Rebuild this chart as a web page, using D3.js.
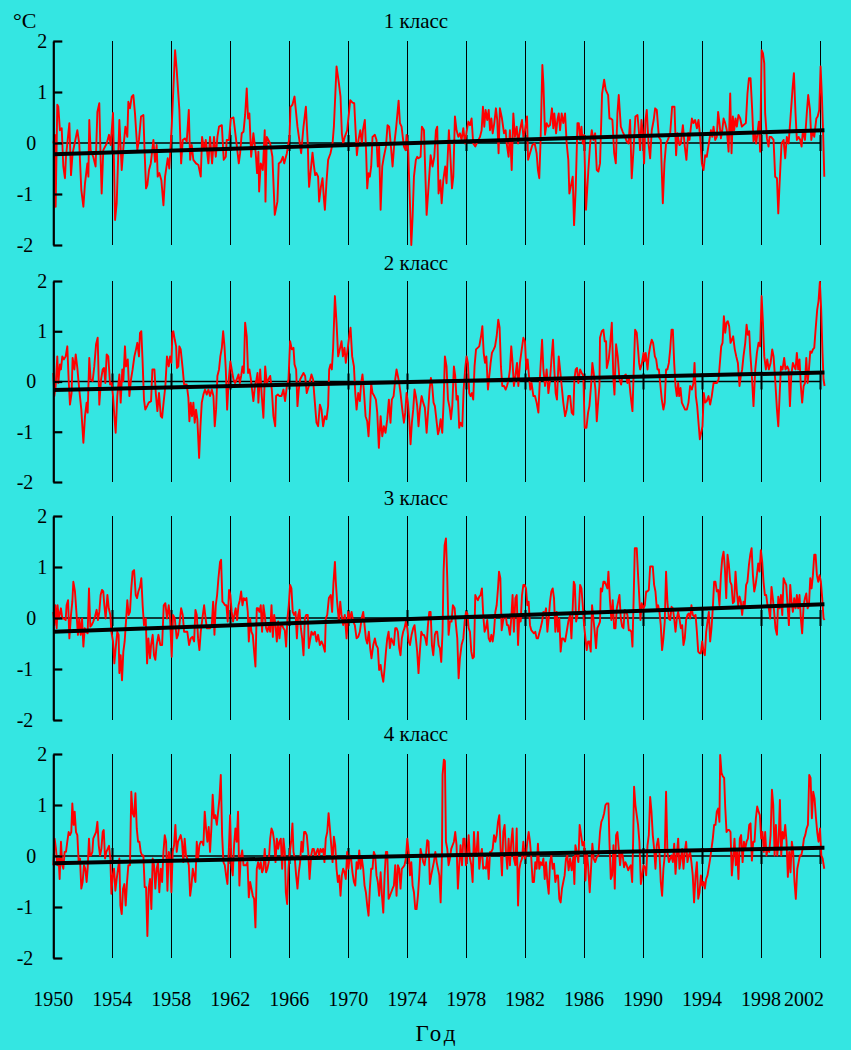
<!DOCTYPE html>
<html><head><meta charset="utf-8">
<script src="https://cdn.jsdelivr.net/npm/d3@7"></script>
<style>html,body{margin:0;padding:0;background:#34e6e2;} svg{display:block;}</style>
</head><body><svg id="c" width="851" height="1050"></svg>
<script>
const titles = ["1 класс", "2 класс", "3 класс", "4 класс"];
const yTicks = [-2, -1, 0, 1, 2];
const xTicks = [1950, 1954, 1958, 1962, 1966, 1970, 1974, 1978, 1982, 1986, 1990, 1994, 1998, 2002];
const trendYears = [1950, 2002.3];
const trendStart = [-0.22, -0.17, -0.27, -0.14];
const trendEnd = [0.25, 0.18, 0.27, 0.16];
const unitLabel = "°C";
const xLabel = "Год";

const class1 = [
[1950.00,-0.01],[1950.11,0.16],[1950.16,-1.25],[1950.27,0.75],[1950.34,0.71],[1950.45,0.25],[1950.57,0.29],[1950.68,-0.46],[1950.79,-0.69],[1950.86,-0.27],[1951.09,0.39],[1951.20,-0.63],[1951.31,-0.20],[1951.63,0.25],[1951.76,-0.01],[1951.90,-0.92],[1952.04,-1.25],[1952.15,-0.79],[1952.31,-0.40],[1952.38,-0.66],[1952.44,0.45],[1952.53,-0.14],[1952.71,-0.27],[1952.87,-0.46],[1952.99,0.61],[1953.12,0.78],[1953.21,-0.33],[1953.28,-0.99],[1953.39,-0.14],[1953.62,-0.01],[1953.78,0.16],[1953.89,-0.04],[1954.05,0.59],[1954.19,-1.51],[1954.30,-1.18],[1954.48,0.45],[1954.64,-0.53],[1954.75,-0.10],[1954.89,0.32],[1955.02,0.12],[1955.09,0.81],[1955.20,0.68],[1955.32,0.91],[1955.43,0.94],[1955.54,0.58],[1955.70,-0.14],[1955.81,0.06],[1955.95,0.52],[1956.11,0.55],[1956.18,-0.07],[1956.29,-0.89],[1956.38,-0.82],[1956.49,-0.53],[1956.61,-0.40],[1956.79,0.06],[1956.90,-0.37],[1957.01,-0.04],[1957.08,-0.66],[1957.19,-0.59],[1957.33,-0.73],[1957.47,-1.22],[1957.58,-0.66],[1957.76,-0.30],[1957.87,-0.50],[1958.03,0.32],[1958.14,1.04],[1958.26,1.82],[1958.37,1.43],[1958.55,0.65],[1958.67,-0.40],[1958.78,0.06],[1958.94,0.09],[1959.05,0.03],[1959.19,0.65],[1959.28,-0.33],[1959.39,-0.04],[1959.50,-0.33],[1959.68,-0.40],[1959.84,-0.43],[1960.00,-0.66],[1960.09,0.12],[1960.23,-0.14],[1960.34,0.06],[1960.52,-0.40],[1960.63,0.12],[1960.77,-0.40],[1960.90,0.12],[1961.02,-0.27],[1961.13,0.12],[1961.24,0.32],[1961.43,0.35],[1961.56,-0.33],[1961.70,-0.27],[1961.76,0.06],[1961.92,0.06],[1962.04,0.48],[1962.22,0.50],[1962.40,0.06],[1962.58,-0.40],[1962.67,-0.20],[1962.78,0.19],[1962.90,0.22],[1963.01,0.55],[1963.12,1.07],[1963.21,0.48],[1963.30,0.58],[1963.42,-0.27],[1963.57,0.19],[1963.73,-0.20],[1963.82,-0.59],[1963.91,-0.17],[1963.96,-0.95],[1964.07,-0.40],[1964.21,-0.53],[1964.34,0.25],[1964.39,-1.15],[1964.48,0.12],[1964.71,-0.01],[1964.86,-0.27],[1965.02,-1.41],[1965.20,-1.15],[1965.29,-0.40],[1965.43,-0.37],[1965.57,-0.27],[1965.66,-0.40],[1965.84,-0.20],[1966.02,0.12],[1966.09,0.71],[1966.22,0.75],[1966.36,0.91],[1966.56,0.32],[1966.72,-0.01],[1966.81,-0.20],[1966.97,0.32],[1967.13,0.71],[1967.26,-0.01],[1967.31,-0.59],[1967.35,-0.86],
[1967.58,-0.19],[1967.67,-0.43],[1967.76,-0.63],[1967.85,-0.59],[1967.96,-0.66],[1968.03,-1.15],[1968.15,-0.86],[1968.26,-0.69],[1968.35,-1.08],[1968.42,-1.31],[1968.53,-0.76],[1968.64,-0.33],[1968.80,-0.20],[1968.94,-0.01],[1969.03,0.32],[1969.12,0.91],[1969.21,1.50],[1969.37,1.17],[1969.48,0.91],[1969.57,0.19],[1969.66,-0.01],[1969.77,0.12],[1969.93,0.25],[1970.05,0.58],[1970.14,0.84],[1970.29,0.79],[1970.41,0.78],[1970.50,0.25],[1970.59,-0.24],[1970.70,0.06],[1970.82,0.25],[1970.93,-0.01],[1971.00,0.25],[1971.13,0.45],[1971.22,-0.20],[1971.29,-0.89],[1971.38,-0.59],[1971.47,-0.66],[1971.56,-0.46],[1971.65,0.12],[1971.81,0.16],[1971.92,0.06],[1972.01,-0.46],[1972.10,-0.07],[1972.20,-1.31],[1972.31,-0.46],[1972.42,-0.27],[1972.56,-0.07],[1972.67,0.35],[1972.78,0.32],[1972.92,-0.14],[1973.01,-0.46],[1973.12,-0.04],[1973.26,0.32],[1973.42,0.83],[1973.51,0.39],[1973.62,0.32],[1973.78,-0.07],[1973.89,-0.14],[1973.96,0.16],[1974.07,-0.14],[1974.19,-1.18],[1974.28,-2.00],[1974.37,-1.44],[1974.46,-0.66],[1974.59,-0.33],[1974.68,-0.27],[1974.77,-0.30],[1974.91,-0.27],[1975.00,0.32],[1975.14,0.25],[1975.23,-0.59],[1975.32,-1.41],[1975.45,-0.86],[1975.59,-0.24],[1975.72,-0.46],[1975.84,-0.27],[1975.95,0.25],[1976.04,0.32],[1976.13,-0.99],[1976.25,-0.73],[1976.34,-1.18],[1976.45,-0.73],[1976.58,-0.46],[1976.67,-0.79],[1976.83,0.25],[1976.92,-0.20],[1977.04,-0.89],[1977.13,-0.66],[1977.24,0.52],[1977.35,0.25],[1977.47,0.12],[1977.58,0.19],[1977.69,0.06],[1977.81,0.29],[1977.92,-0.01],[1978.03,0.22],[1978.15,0.42],[1978.26,0.35],[1978.37,0.48],[1978.48,-0.01],[1978.62,-0.07],[1978.71,-0.01],[1978.94,0.12],[1979.05,0.25],[1979.14,0.71],[1979.23,0.32],[1979.32,0.65],[1979.43,0.45],[1979.53,0.65],[1979.62,0.25],[1979.71,0.48],[1979.80,0.19],[1979.91,0.39],[1980.02,0.68],[1980.11,0.45],[1980.20,-0.20],[1980.29,0.68],[1980.43,0.48],[1980.57,0.19],[1980.68,0.25],[1980.75,-0.01],[1980.88,-0.27],[1980.97,0.25],[1981.09,-0.53],[1981.20,0.58],[1981.31,0.12],[1981.43,0.32],[1981.52,-0.01],[1981.65,0.25],[1981.79,0.45],[1981.88,0.12],[1981.99,0.25],[1982.13,0.52],[1982.20,-0.33],[1982.33,-0.20],[1982.49,-0.04],[1982.65,-0.01],[1982.78,-0.20],[1982.87,-0.53],[1982.96,-0.69],[1983.05,0.06],[1983.17,1.53],[1983.24,1.17],[1983.35,0.16],[1983.46,0.39],[1983.58,0.32],[1983.69,0.35],[1983.82,0.68],[1983.91,0.29],[1983.98,0.58],[1984.10,0.19],[1984.19,0.45],[1984.28,0.58],[1984.37,0.25],[1984.48,0.58],[1984.59,0.39],[1984.71,0.58],[1984.82,-0.01],[1984.93,-0.33],[1985.00,-0.99],
[1985.23,-0.66],[1985.32,-1.61],[1985.43,-0.92],[1985.55,0.39],[1985.64,0.39],[1985.73,0.06],[1985.82,0.32],[1985.91,-0.01],[1986.00,0.16],[1986.13,-1.31],[1986.29,-0.53],[1986.41,-0.01],[1986.52,0.25],[1986.63,0.06],[1986.75,0.19],[1986.86,-0.53],[1986.97,-0.56],[1987.08,-0.40],[1987.22,0.97],[1987.36,1.24],[1987.47,1.04],[1987.63,0.94],[1987.72,0.48],[1987.81,0.48],[1987.92,0.45],[1988.04,-0.20],[1988.15,-0.40],[1988.26,0.58],[1988.35,0.94],[1988.49,0.32],[1988.62,0.22],[1988.78,0.12],[1988.89,0.03],[1989.01,-0.01],[1989.12,0.45],[1989.23,-0.69],[1989.35,-0.14],[1989.48,0.52],[1989.62,0.55],[1989.71,0.25],[1989.80,-0.14],[1989.89,0.45],[1989.98,0.22],[1990.07,-0.40],[1990.16,0.45],[1990.25,0.65],[1990.37,-0.01],[1990.48,-0.30],[1990.59,0.25],[1990.72,0.45],[1990.82,0.68],[1990.93,0.65],[1991.07,0.12],[1991.20,0.06],[1991.34,-1.18],[1991.45,-0.40],[1991.56,-0.01],[1991.68,0.06],[1991.84,0.19],[1991.97,0.71],[1992.13,0.71],[1992.24,-0.24],[1992.33,0.19],[1992.47,-0.04],[1992.56,-0.01],[1992.70,0.35],[1992.83,-0.07],[1992.94,-0.33],[1993.06,0.19],[1993.15,0.06],[1993.31,0.48],[1993.42,0.39],[1993.53,0.45],[1993.65,0.29],[1993.76,0.45],[1993.87,0.12],[1993.99,-0.40],[1994.10,-0.53],[1994.21,-0.24],[1994.32,-0.27],[1994.46,-0.01],[1994.60,0.25],[1994.69,0.12],[1994.78,0.32],[1994.89,0.06],[1995.00,0.12],[1995.09,0.61],[1995.18,0.39],[1995.28,0.09],[1995.37,0.25],[1995.46,0.48],[1995.57,0.39],[1995.68,0.25],[1995.80,-0.17],[1995.91,0.97],[1996.00,-0.20],[1996.09,0.52],[1996.18,0.25],[1996.27,0.48],[1996.36,0.32],[1996.47,0.55],[1996.59,0.48],[1996.70,0.32],[1996.81,0.35],[1996.97,0.39],[1997.08,0.97],[1997.18,1.27],[1997.29,1.27],[1997.40,0.65],[1997.49,0.03],[1997.58,0.19],[1997.67,-0.01],[1997.76,0.19],[1997.85,0.42],[1997.94,-0.17],[1998.04,1.82],[1998.13,1.76],[1998.22,1.56],[1998.28,0.58],[1998.40,0.09],[1998.51,-0.07],[1998.58,0.12],[1998.69,0.12],[1998.85,0.06],[1998.96,-0.66],[1999.08,-0.69],[1999.17,-1.38],[1999.26,-0.79],[1999.39,-0.01],[1999.53,0.06],[1999.64,-0.30],[1999.75,0.12],[1999.87,-0.01],[1999.98,0.42],[2000.14,1.07],[2000.23,1.37],[2000.34,0.58],[2000.43,0.06],[2000.55,0.12],[2000.66,0.06],[2000.75,-0.07],[2000.84,0.25],[2000.98,0.06],[2001.11,0.61],[2001.20,0.94],[2001.32,0.65],[2001.41,0.06],[2001.50,0.25],[2001.61,0.12],[2001.75,0.48],[2001.84,0.52],[2001.95,0.65],[2002.04,1.50],[2002.13,0.91],[2002.22,0.12],[2002.29,-0.66]
];

const class2 = [
[1950.00,0.17],[1950.07,-0.29],[1950.16,-0.09],[1950.27,0.50],[1950.34,-0.03],[1950.45,0.34],[1950.52,0.24],[1950.61,0.50],[1950.72,0.44],[1950.84,0.50],[1950.95,0.70],[1951.04,0.04],[1951.13,-0.46],[1951.24,-0.23],[1951.31,0.47],[1951.43,0.24],[1951.52,0.54],[1951.63,0.27],[1951.76,-0.16],[1951.90,-0.56],[1952.04,-1.22],[1952.15,-0.69],[1952.26,-0.42],[1952.33,-0.62],[1952.44,0.47],[1952.53,0.04],[1952.67,0.01],[1952.78,0.30],[1952.90,0.74],[1953.01,0.87],[1953.12,-0.46],[1953.24,0.04],[1953.35,0.24],[1953.44,0.27],[1953.53,-0.03],[1953.62,0.54],[1953.73,0.50],[1953.85,-0.06],[1953.96,-0.03],[1954.05,-0.29],[1954.14,-0.69],[1954.23,-1.02],[1954.34,-0.29],[1954.48,0.14],[1954.57,-0.42],[1954.68,0.24],[1954.75,0.01],[1954.86,0.70],[1954.93,0.30],[1955.05,0.44],[1955.16,-0.29],[1955.27,0.04],[1955.38,0.24],[1955.50,0.50],[1955.61,0.64],[1955.70,0.77],[1955.81,0.50],[1955.88,0.97],[1955.97,1.00],[1956.06,0.37],[1956.15,-0.36],[1956.24,-0.56],[1956.36,-0.49],[1956.47,-0.42],[1956.63,-0.39],[1956.72,0.24],[1956.86,0.24],[1956.95,-0.23],[1957.06,-0.59],[1957.17,-0.23],[1957.29,-0.69],[1957.38,-0.72],[1957.49,-0.39],[1957.60,-0.09],[1957.71,0.50],[1957.83,0.30],[1957.92,0.50],[1958.01,0.37],[1958.08,0.97],[1958.14,1.00],[1958.24,0.83],[1958.33,0.70],[1958.39,0.27],[1958.48,0.30],[1958.55,0.70],[1958.64,0.64],[1958.78,0.24],[1958.87,-0.06],[1959.05,-0.06],[1959.16,-0.32],[1959.23,-0.79],[1959.32,-0.42],[1959.41,-0.69],[1959.50,-0.42],[1959.59,-0.82],[1959.68,-0.56],[1959.77,-0.75],[1959.89,-1.52],[1959.98,-0.89],[1960.07,-0.42],[1960.18,-0.26],[1960.29,-0.16],[1960.41,-0.26],[1960.52,-0.16],[1960.63,-0.29],[1960.75,-0.16],[1960.86,-0.29],[1960.95,-0.89],[1961.04,-0.56],[1961.13,0.11],[1961.24,0.24],[1961.33,0.50],[1961.43,0.67],[1961.52,1.00],[1961.61,0.70],[1961.70,0.24],[1961.79,-0.56],[1961.90,0.04],[1962.01,0.40],[1962.10,0.24],[1962.22,0.04],[1962.33,-0.03],[1962.44,0.04],[1962.56,0.14],[1962.65,-0.03],[1962.74,0.11],[1962.83,0.30],[1962.92,0.17],[1963.01,1.17],[1963.12,0.90],[1963.21,0.17],[1963.30,0.24],[1963.39,0.07],[1963.48,-0.16],[1963.57,-0.39],[1963.69,-0.06],[1963.78,0.04],[1963.85,0.17],[1963.91,-0.42],[1964.03,0.24],[1964.14,-0.29],[1964.25,-0.72],[1964.37,0.30],[1964.48,-0.03],[1964.59,0.04],[1964.71,0.11],[1964.82,-0.16],[1964.93,-0.69],[1965.05,-0.89],[1965.11,-0.29],[1965.23,-0.26],[1965.34,-0.29],[1965.48,-0.29],[1965.61,-0.16],[1965.72,-0.39],[1965.84,-0.09],[1965.95,0.04],[1966.06,0.80],[1966.18,0.64],[1966.29,0.67],[1966.36,0.34],[1966.47,0.24],[1966.56,-0.49],[1966.65,-0.16],[1966.74,0.04],[1966.86,0.11],[1966.97,0.17],[1967.08,0.11],[1967.19,-0.23],[1967.33,-0.09],
[1967.51,0.14],[1967.62,0.04],[1967.74,-0.42],[1967.85,-0.82],[1967.96,-0.89],[1968.08,-0.46],[1968.19,-0.56],[1968.30,-0.89],[1968.42,-0.69],[1968.53,-0.75],[1968.64,-0.49],[1968.71,0.24],[1968.80,0.34],[1968.89,0.24],[1968.98,0.67],[1969.10,1.70],[1969.21,1.17],[1969.32,0.50],[1969.43,0.64],[1969.55,0.80],[1969.64,0.50],[1969.75,0.67],[1969.84,0.37],[1969.96,0.64],[1970.07,0.90],[1970.16,1.07],[1970.27,0.50],[1970.39,0.30],[1970.48,-0.23],[1970.57,-0.56],[1970.68,-0.23],[1970.79,-0.39],[1970.88,-0.03],[1970.97,0.14],[1971.06,-0.16],[1971.18,-0.69],[1971.29,-0.79],[1971.38,-1.09],[1971.47,-0.62],[1971.56,-0.03],[1971.65,-0.23],[1971.77,-0.29],[1971.88,-0.36],[1971.97,-0.62],[1972.08,-1.32],[1972.20,-0.69],[1972.31,-1.09],[1972.42,-0.89],[1972.53,-1.02],[1972.65,-0.75],[1972.76,-0.36],[1972.87,-0.82],[1972.96,-0.36],[1973.08,-0.29],[1973.19,0.04],[1973.28,0.24],[1973.37,0.11],[1973.46,-0.03],[1973.55,-0.23],[1973.67,-0.56],[1973.78,-0.82],[1973.87,-0.62],[1973.96,-0.23],[1974.05,-0.42],[1974.14,-0.75],[1974.23,-1.25],[1974.32,-0.82],[1974.41,-0.56],[1974.50,-0.16],[1974.59,-0.29],[1974.68,-0.49],[1974.77,-0.89],[1974.86,-0.56],[1974.98,-0.29],[1975.09,-0.42],[1975.20,-0.52],[1975.32,-1.02],[1975.43,-0.56],[1975.52,-0.16],[1975.61,0.07],[1975.70,-0.09],[1975.79,-0.42],[1975.88,-0.49],[1975.98,-0.75],[1976.09,-1.05],[1976.18,-0.95],[1976.27,-0.75],[1976.38,-1.02],[1976.47,-0.42],[1976.56,0.50],[1976.67,0.30],[1976.77,-0.36],[1976.88,-0.52],[1976.97,-0.75],[1977.06,-0.49],[1977.17,0.30],[1977.26,0.11],[1977.35,-0.36],[1977.44,-0.29],[1977.53,-0.92],[1977.62,-0.82],[1977.74,-0.89],[1977.83,-0.16],[1977.94,0.27],[1978.03,0.50],[1978.12,0.37],[1978.21,-0.23],[1978.30,-0.29],[1978.39,-0.23],[1978.48,-0.36],[1978.57,0.30],[1978.67,0.64],[1978.78,0.67],[1978.89,0.70],[1979.01,0.90],[1979.10,1.10],[1979.19,0.57],[1979.28,0.37],[1979.37,0.50],[1979.48,-0.16],[1979.57,0.11],[1979.66,0.37],[1979.75,0.57],[1979.87,0.64],[1979.96,0.70],[1980.07,0.90],[1980.18,1.23],[1980.27,1.07],[1980.36,0.30],[1980.45,-0.09],[1980.57,-0.09],[1980.68,-0.16],[1980.77,-0.09],[1980.88,0.04],[1980.97,0.24],[1981.06,0.70],[1981.15,0.37],[1981.24,-0.09],[1981.34,0.11],[1981.45,0.37],[1981.54,-0.09],[1981.65,0.37],[1981.77,0.64],[1981.88,0.87],[1981.99,0.80],[1982.08,0.24],[1982.17,0.44],[1982.26,0.11],[1982.35,-0.16],[1982.44,-0.03],[1982.56,-0.29],[1982.67,-0.29],[1982.78,-0.42],[1982.90,-0.62],[1983.01,0.11],[1983.15,0.83],[1983.24,0.24],[1983.35,-0.09],[1983.46,0.24],[1983.58,-0.23],[1983.69,0.04],[1983.80,0.50],[1983.89,0.83],[1983.98,0.24],[1984.07,-0.23],[1984.16,-0.36],[1984.28,0.50],[1984.37,0.24],[1984.48,-0.09],[1984.59,-0.42],[1984.71,-0.69],[1984.82,-0.56],[1984.93,-0.29],
[1985.05,-0.29],[1985.16,-0.62],[1985.27,-0.66],[1985.34,0.04],[1985.43,0.24],[1985.52,0.27],[1985.61,-0.03],[1985.73,0.24],[1985.84,0.17],[1985.95,0.11],[1986.04,-0.92],[1986.16,-0.92],[1986.27,-0.62],[1986.36,-0.49],[1986.47,-0.09],[1986.56,0.37],[1986.65,0.17],[1986.77,-0.16],[1986.86,-0.79],[1986.95,-0.42],[1987.04,-0.09],[1987.08,0.87],[1987.20,1.00],[1987.31,1.03],[1987.40,0.80],[1987.49,0.80],[1987.54,0.27],[1987.67,0.44],[1987.76,0.70],[1987.88,1.17],[1987.99,0.04],[1988.06,-0.26],[1988.17,0.74],[1988.28,0.50],[1988.40,0.04],[1988.51,-0.06],[1988.60,0.11],[1988.71,0.11],[1988.83,0.14],[1988.94,-0.03],[1989.03,0.11],[1989.14,-0.23],[1989.21,-0.42],[1989.28,-0.59],[1989.37,0.24],[1989.46,1.03],[1989.57,0.97],[1989.66,0.64],[1989.73,0.37],[1989.80,0.24],[1989.91,0.34],[1990.03,0.57],[1990.09,0.40],[1990.18,0.57],[1990.30,0.24],[1990.39,0.54],[1990.48,0.70],[1990.59,0.83],[1990.68,0.77],[1990.80,0.50],[1990.89,0.44],[1990.98,0.24],[1991.07,0.24],[1991.16,-0.03],[1991.27,-0.36],[1991.38,-0.56],[1991.47,-0.42],[1991.56,0.24],[1991.65,0.24],[1991.75,0.37],[1991.84,0.64],[1991.93,1.03],[1992.02,1.03],[1992.11,0.37],[1992.20,-0.09],[1992.29,-0.29],[1992.38,-0.03],[1992.45,-0.29],[1992.54,-0.13],[1992.63,-0.42],[1992.74,-0.49],[1992.85,-0.56],[1992.97,-0.56],[1993.08,-0.42],[1993.19,-0.09],[1993.31,-0.16],[1993.42,-0.03],[1993.49,0.37],[1993.58,-0.29],[1993.67,-0.49],[1993.76,-0.82],[1993.85,-1.15],[1993.94,-1.02],[1994.03,-0.89],[1994.12,-0.23],[1994.21,-0.42],[1994.32,-0.39],[1994.44,-0.29],[1994.55,-0.46],[1994.66,-0.29],[1994.78,-0.03],[1994.89,-0.03],[1995.00,-0.03],[1995.12,0.04],[1995.21,0.37],[1995.30,0.70],[1995.39,0.77],[1995.48,1.30],[1995.57,0.97],[1995.66,1.17],[1995.75,1.20],[1995.84,1.10],[1995.93,0.77],[1996.02,0.83],[1996.11,0.90],[1996.22,0.64],[1996.32,0.50],[1996.43,0.37],[1996.54,-0.09],[1996.63,0.11],[1996.72,0.24],[1996.81,0.50],[1996.93,0.77],[1997.02,1.13],[1997.11,0.93],[1997.20,1.00],[1997.27,0.57],[1997.38,0.11],[1997.49,-0.49],[1997.61,0.24],[1997.72,0.57],[1997.83,0.77],[1997.94,0.70],[1998.04,1.70],[1998.13,1.17],[1998.22,0.50],[1998.33,0.24],[1998.42,0.44],[1998.53,0.24],[1998.65,0.37],[1998.76,0.64],[1998.85,0.50],[1998.96,0.04],[1999.08,-0.56],[1999.17,-0.89],[1999.26,-0.29],[1999.35,0.30],[1999.46,0.24],[1999.57,0.47],[1999.66,0.24],[1999.78,0.30],[1999.87,0.24],[1999.96,-0.49],[2000.05,0.11],[2000.16,0.37],[2000.25,0.30],[2000.34,0.24],[2000.43,0.57],[2000.52,0.24],[2000.61,0.44],[2000.70,-0.09],[2000.79,-0.42],[2000.89,-0.09],[2000.98,-0.03],[2001.07,0.47],[2001.16,-0.03],[2001.25,0.24],[2001.34,0.60],[2001.43,0.57],[2001.52,0.64],[2001.61,0.67],[2001.70,1.03],[2001.81,1.43],[2001.90,1.60],[2001.99,1.98],[2002.08,1.43],[2002.17,0.57],[2002.24,0.04],[2002.31,-0.09]
];

const class3 = [
[1950.00,0.12],[1950.07,-0.14],[1950.14,0.25],[1950.23,-0.20],[1950.29,0.25],[1950.38,-0.01],[1950.52,0.19],[1950.61,-0.01],[1950.72,-0.01],[1950.84,-0.04],[1950.90,0.25],[1951.00,0.35],[1951.09,-0.40],[1951.20,0.06],[1951.29,0.32],[1951.36,0.71],[1951.47,0.52],[1951.58,0.06],[1951.67,-0.33],[1951.76,-0.01],[1951.86,-0.33],[1951.95,-0.01],[1952.04,-0.56],[1952.13,-0.20],[1952.22,-0.27],[1952.33,-0.30],[1952.42,0.58],[1952.51,-0.17],[1952.60,-0.14],[1952.71,-0.07],[1952.83,0.03],[1952.94,0.16],[1953.03,-0.04],[1953.12,0.12],[1953.21,0.45],[1953.30,0.55],[1953.39,0.52],[1953.46,0.25],[1953.55,-0.01],[1953.67,0.45],[1953.76,0.19],[1953.87,0.06],[1953.94,-0.27],[1954.05,-0.46],[1954.14,-0.89],[1954.23,-0.59],[1954.34,-0.27],[1954.43,-0.33],[1954.48,-1.08],[1954.57,-0.73],[1954.66,-1.22],[1954.75,-0.66],[1954.84,-0.46],[1954.93,-0.07],[1955.02,0.35],[1955.11,0.06],[1955.20,0.12],[1955.29,0.58],[1955.38,0.91],[1955.48,0.94],[1955.59,0.45],[1955.68,0.39],[1955.77,0.52],[1955.88,0.61],[1955.97,0.78],[1956.06,0.25],[1956.15,-0.14],[1956.27,-0.01],[1956.36,-0.89],[1956.45,-0.40],[1956.56,-0.79],[1956.63,-0.53],[1956.74,-0.33],[1956.83,-0.73],[1956.92,-0.82],[1957.01,-0.53],[1957.13,-0.33],[1957.26,-0.53],[1957.38,-0.53],[1957.49,0.25],[1957.60,0.29],[1957.71,-0.01],[1957.83,0.25],[1957.92,-0.01],[1958.03,-0.76],[1958.12,0.06],[1958.24,-0.01],[1958.37,-0.40],[1958.46,-0.33],[1958.55,-0.14],[1958.67,0.19],[1958.78,0.06],[1958.87,-0.27],[1958.98,-0.27],[1959.09,-0.27],[1959.21,-0.53],[1959.32,-0.40],[1959.43,-0.37],[1959.55,-0.46],[1959.64,0.16],[1959.73,0.06],[1959.82,-0.40],[1959.91,-0.63],[1960.00,-0.27],[1960.11,-0.01],[1960.23,0.25],[1960.29,0.09],[1960.41,-0.20],[1960.52,-0.20],[1960.63,-0.20],[1960.75,-0.14],[1960.84,0.32],[1960.93,-0.33],[1961.02,0.25],[1961.11,0.45],[1961.20,0.78],[1961.31,1.10],[1961.38,1.14],[1961.47,0.32],[1961.56,0.29],[1961.65,0.25],[1961.74,0.25],[1961.83,-0.07],[1961.92,0.55],[1962.01,0.45],[1962.10,0.12],[1962.19,-0.07],[1962.28,0.06],[1962.37,0.19],[1962.47,-0.04],[1962.56,0.25],[1962.65,0.35],[1962.74,0.52],[1962.83,0.25],[1962.92,0.39],[1963.01,0.35],[1963.10,0.39],[1963.19,0.12],[1963.26,-0.46],[1963.35,-0.01],[1963.44,-0.27],[1963.53,-0.33],[1963.62,-0.66],[1963.71,-0.95],[1963.80,0.19],[1963.89,0.19],[1963.98,0.12],[1964.07,0.25],[1964.16,-0.27],[1964.25,0.25],[1964.34,0.06],[1964.43,-0.20],[1964.52,-0.27],[1964.61,-0.14],[1964.71,-0.27],[1964.80,0.25],[1964.89,-0.37],[1964.98,0.06],[1965.07,-0.14],[1965.16,-0.46],[1965.25,-0.07],[1965.34,-0.40],[1965.43,-0.14],[1965.52,-0.14],[1965.61,-0.20],[1965.70,-0.24],[1965.79,-0.56],[1965.88,-0.01],[1965.97,0.25],[1966.06,0.65],[1966.15,0.58],[1966.24,0.12],[1966.33,0.06],[1966.43,0.12],[1966.52,-0.40],[1966.61,0.06],[1966.70,0.16],[1966.79,-0.20],[1966.88,-0.40],[1966.97,-0.73],[1967.06,-0.01],[1967.15,0.06],[1967.26,0.06],[1967.33,-0.59],
[1967.51,-0.27],[1967.62,-0.33],[1967.74,-0.27],[1967.85,-0.46],[1967.96,-0.33],[1968.08,-0.53],[1968.19,-0.46],[1968.30,-0.53],[1968.42,-0.66],[1968.48,-0.01],[1968.58,0.06],[1968.69,0.39],[1968.82,0.45],[1968.91,0.12],[1969.00,0.68],[1969.10,1.10],[1969.16,0.71],[1969.25,0.32],[1969.37,-0.07],[1969.46,0.32],[1969.55,0.06],[1969.66,-0.14],[1969.77,0.06],[1969.89,-0.40],[1970.00,0.12],[1970.11,-0.01],[1970.23,0.12],[1970.34,-0.07],[1970.45,-0.14],[1970.57,-0.40],[1970.68,-0.37],[1970.79,-0.27],[1970.91,-0.01],[1971.02,0.12],[1971.11,-0.14],[1971.20,-0.40],[1971.29,-0.50],[1971.40,-0.27],[1971.49,-0.59],[1971.58,-0.79],[1971.70,-0.53],[1971.81,-0.40],[1971.90,-0.53],[1972.01,-0.59],[1972.10,-1.02],[1972.20,-0.92],[1972.29,-1.12],[1972.38,-1.25],[1972.47,-0.99],[1972.56,-0.66],[1972.65,-0.40],[1972.74,-0.27],[1972.83,-0.59],[1972.92,-0.40],[1973.01,-0.46],[1973.10,-0.53],[1973.19,-0.20],[1973.28,-0.20],[1973.37,-0.27],[1973.46,-0.59],[1973.55,-0.73],[1973.64,-0.40],[1973.73,-0.27],[1973.82,-0.20],[1973.91,-0.07],[1974.01,-0.20],[1974.10,-0.46],[1974.19,-0.53],[1974.30,-0.33],[1974.41,-0.20],[1974.50,-0.14],[1974.59,-0.40],[1974.68,-0.66],[1974.77,-1.08],[1974.86,-0.66],[1974.96,-0.27],[1975.05,-0.33],[1975.14,-0.33],[1975.23,-0.40],[1975.32,-0.53],[1975.41,-0.14],[1975.50,0.12],[1975.59,0.12],[1975.68,-0.53],[1975.77,-0.73],[1975.88,-0.33],[1975.95,-0.27],[1976.04,-0.27],[1976.13,-0.53],[1976.22,-0.59],[1976.31,-0.86],[1976.40,-0.27],[1976.47,0.91],[1976.54,1.43],[1976.63,1.56],[1976.72,0.78],[1976.81,-0.33],[1976.90,-0.07],[1977.01,-0.07],[1977.10,0.25],[1977.22,0.19],[1977.31,-0.14],[1977.40,-0.40],[1977.49,-1.18],[1977.58,-0.79],[1977.69,-0.53],[1977.81,-0.40],[1977.90,-0.07],[1977.99,0.12],[1978.08,0.09],[1978.17,-0.20],[1978.26,-0.27],[1978.35,-0.66],[1978.44,-0.79],[1978.53,-0.76],[1978.62,0.45],[1978.71,0.39],[1978.80,0.35],[1978.89,0.42],[1978.98,0.45],[1979.07,0.58],[1979.16,0.06],[1979.25,-0.27],[1979.34,-0.20],[1979.43,-0.04],[1979.53,-0.40],[1979.62,-0.46],[1979.71,-0.33],[1979.80,-0.46],[1979.89,-0.27],[1979.98,0.12],[1980.07,0.25],[1980.16,0.58],[1980.23,0.91],[1980.32,0.78],[1980.41,-0.24],[1980.50,-0.07],[1980.59,0.06],[1980.68,0.06],[1980.77,-0.14],[1980.86,-0.14],[1980.97,-0.33],[1981.06,-0.01],[1981.15,0.45],[1981.24,-0.27],[1981.34,0.39],[1981.43,0.45],[1981.52,-0.53],[1981.61,0.06],[1981.70,-0.07],[1981.79,0.45],[1981.88,0.65],[1981.97,0.65],[1982.06,0.58],[1982.15,0.25],[1982.24,0.32],[1982.33,-0.14],[1982.42,-0.24],[1982.51,-0.27],[1982.60,-0.30],[1982.69,-0.27],[1982.78,-0.40],[1982.87,-0.40],[1982.96,-0.30],[1983.05,-0.20],[1983.15,-0.07],[1983.24,0.12],[1983.33,0.06],[1983.42,0.19],[1983.51,-0.27],[1983.60,-0.01],[1983.69,0.32],[1983.78,0.52],[1983.87,0.58],[1983.96,0.39],[1984.05,-0.27],[1984.14,0.12],[1984.23,-0.27],[1984.32,-0.01],[1984.41,-0.66],[1984.50,-0.40],[1984.59,-0.40],[1984.71,-0.46],[1984.82,-0.27],[1984.93,-0.07],
[1985.05,0.06],[1985.14,-0.40],[1985.21,0.06],[1985.30,0.71],[1985.37,0.65],[1985.46,-0.07],[1985.55,0.06],[1985.64,0.12],[1985.73,0.65],[1985.82,0.58],[1985.91,0.25],[1986.00,-0.14],[1986.09,-0.40],[1986.18,-0.63],[1986.27,-0.46],[1986.36,-0.46],[1986.45,-0.66],[1986.54,0.25],[1986.63,-0.01],[1986.72,-0.27],[1986.81,-0.59],[1986.90,-0.20],[1986.99,-0.14],[1987.08,-0.07],[1987.13,0.58],[1987.22,0.52],[1987.31,0.71],[1987.40,0.71],[1987.49,0.65],[1987.58,0.58],[1987.65,0.91],[1987.76,0.32],[1987.85,-0.04],[1987.94,0.35],[1988.04,-0.20],[1988.13,-0.20],[1988.22,0.19],[1988.31,0.32],[1988.40,0.45],[1988.49,-0.01],[1988.58,-0.17],[1988.67,-0.20],[1988.76,0.16],[1988.85,0.12],[1988.94,0.06],[1989.03,-0.24],[1989.12,-0.24],[1989.21,-0.27],[1989.28,-0.56],[1989.35,0.25],[1989.44,1.37],[1989.57,1.37],[1989.66,0.84],[1989.73,0.48],[1989.82,-0.04],[1989.91,0.29],[1990.03,0.19],[1990.12,0.25],[1990.21,0.52],[1990.30,0.52],[1990.39,0.55],[1990.48,1.01],[1990.57,1.01],[1990.66,1.01],[1990.75,0.65],[1990.84,0.52],[1990.93,0.19],[1991.02,0.25],[1991.11,0.12],[1991.20,-0.14],[1991.29,-0.63],[1991.38,-0.40],[1991.47,-0.07],[1991.56,0.91],[1991.65,0.32],[1991.75,-0.01],[1991.84,-0.04],[1991.93,0.22],[1992.02,0.19],[1992.11,-0.01],[1992.20,-0.27],[1992.29,-0.01],[1992.38,0.12],[1992.47,-0.01],[1992.56,-0.20],[1992.65,-0.14],[1992.74,-0.53],[1992.83,-0.40],[1992.92,-0.04],[1993.01,0.06],[1993.10,0.09],[1993.19,-0.01],[1993.28,0.25],[1993.37,0.06],[1993.46,0.03],[1993.56,0.06],[1993.65,-0.27],[1993.74,-0.66],[1993.83,-0.69],[1993.92,-0.69],[1994.01,-0.46],[1994.10,-0.66],[1994.19,-0.73],[1994.28,-0.27],[1994.37,-0.07],[1994.46,0.12],[1994.55,-0.46],[1994.64,-0.20],[1994.73,0.19],[1994.82,0.71],[1994.91,0.71],[1995.00,0.52],[1995.09,0.55],[1995.18,0.25],[1995.28,0.84],[1995.37,1.17],[1995.46,1.30],[1995.55,0.97],[1995.64,0.39],[1995.73,1.24],[1995.82,1.04],[1995.91,0.71],[1996.00,0.65],[1996.09,0.29],[1996.18,0.32],[1996.27,0.91],[1996.36,0.52],[1996.45,0.25],[1996.54,0.42],[1996.63,0.32],[1996.72,0.06],[1996.81,0.32],[1996.90,0.25],[1996.99,0.65],[1997.08,0.71],[1997.18,1.04],[1997.27,1.24],[1997.36,1.37],[1997.45,0.84],[1997.54,0.52],[1997.63,0.65],[1997.72,0.84],[1997.81,1.07],[1997.90,0.91],[1997.99,1.33],[1998.08,1.10],[1998.17,0.71],[1998.26,0.45],[1998.35,0.45],[1998.44,0.25],[1998.53,0.19],[1998.62,-0.01],[1998.71,0.61],[1998.80,0.39],[1998.89,0.12],[1998.98,-0.20],[1999.08,-0.33],[1999.17,0.42],[1999.26,0.19],[1999.35,0.45],[1999.44,0.06],[1999.53,0.78],[1999.62,0.71],[1999.71,0.65],[1999.80,0.25],[1999.89,-0.14],[1999.98,0.65],[2000.07,0.32],[2000.16,0.12],[2000.25,0.39],[2000.34,0.19],[2000.43,0.45],[2000.52,0.19],[2000.61,0.45],[2000.70,-0.01],[2000.79,-0.30],[2000.89,0.25],[2000.98,0.39],[2001.07,0.48],[2001.16,0.19],[2001.25,0.25],[2001.34,0.78],[2001.43,0.58],[2001.52,0.84],[2001.61,1.24],[2001.70,1.24],[2001.79,0.84],[2001.88,0.71],[2001.97,0.84],[2002.06,0.71],[2002.15,0.39],[2002.24,-0.01],[2002.31,-0.04]
];

const class4 = [
[1950.00,-0.18],[1950.09,0.34],[1950.18,0.14],[1950.27,-0.18],[1950.36,-0.05],[1950.43,-0.45],[1950.52,0.28],[1950.61,-0.18],[1950.68,-0.25],[1950.77,0.08],[1950.86,0.08],[1950.95,0.28],[1951.04,0.47],[1951.13,0.41],[1951.22,0.47],[1951.29,1.03],[1951.38,0.61],[1951.45,0.87],[1951.54,0.47],[1951.63,0.41],[1951.72,-0.12],[1951.81,-0.05],[1951.90,-0.64],[1951.99,-0.51],[1952.08,-0.18],[1952.17,-0.25],[1952.26,-0.51],[1952.33,-0.25],[1952.42,0.34],[1952.49,0.01],[1952.56,0.01],[1952.65,0.08],[1952.71,0.34],[1952.81,0.41],[1952.90,0.47],[1952.99,0.67],[1953.08,0.21],[1953.17,0.01],[1953.26,0.14],[1953.35,0.47],[1953.42,0.51],[1953.51,-0.05],[1953.60,0.08],[1953.69,0.14],[1953.78,0.20],[1953.87,-0.05],[1953.94,-0.74],[1954.03,-0.38],[1954.12,-0.25],[1954.21,-0.68],[1954.30,-0.45],[1954.39,-0.25],[1954.48,-0.05],[1954.55,-0.97],[1954.64,-1.14],[1954.73,-0.64],[1954.82,-0.55],[1954.91,-0.97],[1955.00,-0.51],[1955.09,-0.18],[1955.20,-0.18],[1955.29,1.26],[1955.38,0.84],[1955.48,0.77],[1955.57,1.23],[1955.66,0.54],[1955.75,0.28],[1955.84,0.28],[1955.93,0.08],[1956.02,0.01],[1956.11,0.01],[1956.20,-0.61],[1956.29,-0.61],[1956.38,-1.57],[1956.47,-0.64],[1956.56,-0.45],[1956.65,-1.04],[1956.74,-0.05],[1956.83,-0.18],[1956.92,-0.64],[1957.01,-0.25],[1957.10,-0.12],[1957.19,-0.71],[1957.29,-0.25],[1957.38,-0.51],[1957.47,0.08],[1957.56,0.41],[1957.65,0.28],[1957.74,-0.68],[1957.83,0.08],[1957.92,0.01],[1958.01,-0.71],[1958.10,0.08],[1958.19,0.21],[1958.28,0.61],[1958.37,0.08],[1958.46,0.28],[1958.55,0.34],[1958.64,0.41],[1958.73,0.28],[1958.82,-0.12],[1958.91,0.34],[1959.00,0.01],[1959.09,-0.05],[1959.19,-0.18],[1959.28,-0.78],[1959.37,-0.58],[1959.46,-0.25],[1959.55,-0.38],[1959.64,-0.51],[1959.73,0.28],[1959.82,-0.05],[1959.91,0.21],[1960.00,0.28],[1960.09,0.28],[1960.18,0.21],[1960.27,0.87],[1960.36,0.54],[1960.45,0.28],[1960.54,0.57],[1960.63,0.08],[1960.72,0.54],[1960.81,1.20],[1960.90,0.74],[1960.99,0.80],[1961.09,0.61],[1961.18,0.87],[1961.27,1.13],[1961.36,1.59],[1961.45,0.41],[1961.54,-0.12],[1961.63,-0.18],[1961.72,-0.38],[1961.81,-0.55],[1961.90,0.08],[1961.99,0.80],[1962.08,-0.18],[1962.17,-0.38],[1962.26,0.21],[1962.35,0.54],[1962.44,0.28],[1962.53,0.87],[1962.62,-0.58],[1962.71,-0.05],[1962.81,0.11],[1962.90,-0.18],[1962.99,-0.18],[1963.08,-0.18],[1963.17,-0.12],[1963.26,-0.81],[1963.35,-0.51],[1963.44,-0.64],[1963.53,-0.78],[1963.62,-0.84],[1963.71,-1.40],[1963.80,-0.25],[1963.89,-0.12],[1963.98,-0.25],[1964.07,-0.12],[1964.16,-0.32],[1964.25,-0.25],[1964.34,0.14],[1964.43,-0.32],[1964.52,-0.25],[1964.61,-0.12],[1964.71,0.34],[1964.80,0.54],[1964.89,0.47],[1964.98,0.28],[1965.07,-0.12],[1965.16,0.34],[1965.25,0.14],[1965.34,0.28],[1965.43,0.34],[1965.52,-0.25],[1965.61,0.34],[1965.70,0.08],[1965.77,-0.71],[1965.86,-0.94],[1965.95,-0.25],[1966.04,0.08],[1966.13,0.28],[1966.22,0.64],[1966.29,0.08],[1966.38,-0.05],[1966.47,-0.38],[1966.56,-0.64],[1966.65,-0.32],[1966.74,-0.12],[1966.83,0.28],[1966.92,0.08],[1967.01,0.47],[1967.10,0.47],[1967.19,0.41],[1967.29,0.08],[1967.38,-0.45],
[1967.49,0.01],[1967.58,0.14],[1967.67,0.14],[1967.76,-0.05],[1967.85,0.08],[1967.94,0.14],[1968.03,0.01],[1968.12,0.14],[1968.21,0.08],[1968.30,0.14],[1968.39,-0.12],[1968.48,0.34],[1968.58,0.47],[1968.67,0.84],[1968.76,0.54],[1968.85,0.21],[1968.94,-0.12],[1969.03,0.38],[1969.12,0.21],[1969.21,-0.25],[1969.30,-0.51],[1969.39,-0.38],[1969.48,-0.78],[1969.57,-0.38],[1969.66,-0.25],[1969.75,-0.32],[1969.84,-0.45],[1969.93,0.08],[1970.02,-0.25],[1970.11,0.01],[1970.20,-0.05],[1970.29,-0.32],[1970.39,-0.51],[1970.48,-0.58],[1970.57,-0.12],[1970.66,-0.25],[1970.75,0.11],[1970.84,-0.25],[1970.93,-0.05],[1971.02,-0.25],[1971.11,-0.58],[1971.20,-0.71],[1971.29,-0.97],[1971.38,-1.17],[1971.47,-0.64],[1971.56,-0.25],[1971.65,-0.25],[1971.74,0.08],[1971.83,0.01],[1971.92,-0.38],[1972.01,-0.51],[1972.10,-0.78],[1972.20,-0.32],[1972.29,-0.78],[1972.38,-1.11],[1972.47,-0.38],[1972.56,0.08],[1972.65,0.08],[1972.74,-0.84],[1972.83,-0.78],[1972.92,-0.71],[1973.01,-0.64],[1973.10,-0.58],[1973.19,-0.18],[1973.28,-0.78],[1973.37,-0.18],[1973.46,-0.25],[1973.55,-0.64],[1973.64,-0.25],[1973.73,-0.22],[1973.82,-0.18],[1973.91,-0.05],[1974.01,0.34],[1974.10,0.08],[1974.19,-0.38],[1974.28,-0.12],[1974.37,-0.58],[1974.46,-0.71],[1974.55,-1.04],[1974.64,-1.04],[1974.73,-0.78],[1974.82,-0.38],[1974.91,0.14],[1975.00,0.01],[1975.09,-0.12],[1975.18,-0.18],[1975.27,0.01],[1975.36,0.31],[1975.45,0.28],[1975.54,-0.55],[1975.63,-0.38],[1975.72,-0.25],[1975.81,-0.12],[1975.91,0.08],[1976.00,-0.12],[1976.09,-0.25],[1976.18,-0.38],[1976.27,-0.91],[1976.36,0.01],[1976.40,1.59],[1976.49,1.89],[1976.56,1.86],[1976.63,0.28],[1976.72,0.14],[1976.81,-0.18],[1976.90,-0.05],[1976.99,0.14],[1977.08,0.21],[1977.17,0.28],[1977.26,0.47],[1977.35,0.21],[1977.44,-0.64],[1977.53,-0.18],[1977.62,0.21],[1977.72,-0.18],[1977.81,0.34],[1977.90,0.34],[1977.99,-0.18],[1978.08,0.01],[1978.17,0.41],[1978.26,-0.05],[1978.35,-0.18],[1978.44,-0.51],[1978.53,0.47],[1978.62,0.01],[1978.71,0.08],[1978.80,0.47],[1978.89,-0.25],[1978.98,0.01],[1979.07,0.14],[1979.16,-0.25],[1979.25,-0.22],[1979.34,-0.25],[1979.43,0.01],[1979.53,-0.45],[1979.62,0.08],[1979.71,0.08],[1979.80,0.14],[1979.89,0.41],[1979.98,0.28],[1980.07,0.41],[1980.16,0.67],[1980.25,0.80],[1980.34,0.14],[1980.43,-0.38],[1980.52,0.47],[1980.61,0.61],[1980.70,0.08],[1980.79,-0.25],[1980.88,0.34],[1980.97,-0.18],[1981.06,0.28],[1981.15,0.54],[1981.24,-0.05],[1981.34,-0.18],[1981.43,0.54],[1981.52,-0.97],[1981.61,-0.25],[1981.70,-0.12],[1981.79,-0.05],[1981.88,0.28],[1981.97,-0.05],[1982.06,0.01],[1982.15,0.28],[1982.24,0.47],[1982.33,0.28],[1982.42,-0.05],[1982.51,-0.51],[1982.60,-0.51],[1982.69,-0.12],[1982.78,-0.25],[1982.87,0.24],[1982.96,-0.25],[1983.05,-0.12],[1983.15,-0.18],[1983.24,-0.05],[1983.33,-0.45],[1983.42,-0.12],[1983.51,-0.51],[1983.60,-0.74],[1983.69,-0.12],[1983.78,0.01],[1983.87,-0.25],[1983.96,-0.15],[1984.05,-0.51],[1984.14,-0.38],[1984.23,-0.38],[1984.32,-0.84],[1984.41,-0.91],[1984.50,-0.64],[1984.59,-0.51],[1984.68,-0.38],[1984.77,-0.05],[1984.86,0.01],[1984.95,-0.28],
[1985.05,-0.05],[1985.16,-0.28],[1985.27,-0.02],[1985.34,-0.55],[1985.41,0.21],[1985.50,0.08],[1985.61,-0.12],[1985.70,0.61],[1985.80,0.41],[1985.89,0.21],[1986.00,0.28],[1986.09,-0.48],[1986.18,0.08],[1986.27,-0.18],[1986.38,-0.71],[1986.47,-0.25],[1986.56,0.24],[1986.65,-0.05],[1986.75,-0.12],[1986.86,-0.02],[1986.97,0.01],[1987.08,0.47],[1987.17,0.67],[1987.27,0.74],[1987.36,0.84],[1987.45,1.00],[1987.54,1.03],[1987.65,1.03],[1987.72,0.28],[1987.81,-0.45],[1987.90,-0.38],[1987.99,0.21],[1988.08,-0.64],[1988.17,0.41],[1988.26,0.47],[1988.35,0.14],[1988.44,-0.18],[1988.53,0.08],[1988.62,0.01],[1988.71,-0.22],[1988.80,-0.12],[1988.89,-0.18],[1988.99,-0.28],[1989.08,-0.22],[1989.17,-0.18],[1989.26,-0.51],[1989.33,0.34],[1989.39,1.36],[1989.48,1.00],[1989.57,0.80],[1989.66,0.61],[1989.75,0.28],[1989.85,-0.55],[1989.94,-0.38],[1990.03,-0.18],[1990.12,-0.22],[1990.21,-0.38],[1990.30,0.21],[1990.39,0.41],[1990.48,1.16],[1990.57,0.87],[1990.66,0.41],[1990.75,0.14],[1990.84,-0.25],[1990.93,0.21],[1991.02,0.34],[1991.11,0.08],[1991.20,-0.51],[1991.29,-0.78],[1991.38,-0.25],[1991.47,0.01],[1991.56,1.26],[1991.65,0.08],[1991.75,-0.12],[1991.84,-0.05],[1991.93,0.01],[1992.02,-0.12],[1992.11,0.24],[1992.20,-0.35],[1992.29,0.01],[1992.38,0.34],[1992.47,-0.25],[1992.56,-0.05],[1992.65,0.14],[1992.74,-0.25],[1992.83,0.08],[1992.92,0.28],[1993.01,-0.12],[1993.10,0.01],[1993.19,0.08],[1993.28,-0.12],[1993.37,-0.38],[1993.46,-0.91],[1993.56,-0.38],[1993.65,-0.12],[1993.74,-0.84],[1993.83,-0.71],[1993.92,-0.38],[1994.01,-0.58],[1994.10,-0.51],[1994.19,-0.64],[1994.28,-0.45],[1994.37,-0.38],[1994.46,-0.22],[1994.55,-0.05],[1994.64,0.14],[1994.73,0.34],[1994.82,0.61],[1994.91,0.61],[1995.00,0.87],[1995.09,0.93],[1995.18,0.67],[1995.23,1.98],[1995.32,1.63],[1995.41,1.56],[1995.50,1.53],[1995.57,0.97],[1995.66,0.47],[1995.75,0.51],[1995.84,0.51],[1995.93,0.47],[1996.02,-0.38],[1996.11,-0.05],[1996.20,0.34],[1996.29,-0.18],[1996.38,0.08],[1996.47,-0.45],[1996.56,0.34],[1996.65,0.41],[1996.75,-0.12],[1996.84,0.28],[1996.93,0.14],[1997.02,0.28],[1997.11,0.34],[1997.20,0.61],[1997.29,0.64],[1997.38,-0.09],[1997.47,0.28],[1997.56,0.28],[1997.65,0.74],[1997.74,0.97],[1997.83,0.87],[1997.92,0.80],[1998.01,0.34],[1998.10,0.47],[1998.19,0.08],[1998.28,0.47],[1998.37,0.01],[1998.46,0.14],[1998.56,0.08],[1998.65,0.41],[1998.74,1.30],[1998.83,1.00],[1998.92,0.01],[1999.01,0.61],[1999.10,0.01],[1999.19,0.28],[1999.28,1.10],[1999.37,0.01],[1999.46,0.47],[1999.55,0.34],[1999.64,0.61],[1999.73,0.28],[1999.82,-0.41],[1999.91,0.08],[2000.00,-0.32],[2000.09,0.28],[2000.18,0.08],[2000.27,-0.51],[2000.36,-0.84],[2000.46,-0.25],[2000.55,-0.12],[2000.64,0.01],[2000.73,0.01],[2000.82,0.14],[2000.91,0.34],[2001.00,0.41],[2001.09,0.54],[2001.18,0.61],[2001.27,1.59],[2001.36,1.53],[2001.45,0.74],[2001.54,1.26],[2001.63,1.13],[2001.72,0.77],[2001.81,0.47],[2001.90,0.28],[2002.00,0.54],[2002.09,0.01],[2002.18,-0.05],[2002.29,-0.25]
];

const series = [class1, class2, class3, class4];

// ---- layout ----
const FONT = "'Liberation Serif','Times New Roman',serif";
const frames = [[41, 245], [281, 482], [516, 720], [754, 958]];
const titleBase = [28, 270, 505, 741];
const svg = d3.select("#c");
svg.append("rect").attr("width", 851).attr("height", 1050).attr("fill", "#34e6e2");

const x = d3.scaleLinear().domain([1950, 2002]).range([53.3, 820]);
const line = (y) => d3.line().x(d => x(d[0])).y(d => y(d[1]));
// horizontal nudge of y tick labels, as placed in the original figure
const labelShift = v => (v > 0 ? 0 : v === 0 ? -11 : -14);

series.forEach((data, i) => {
  const [top, bot] = frames[i];
  const y = d3.scaleLinear().domain([-2, 2]).range([bot, top]);
  const g = svg.append("g");

  g.selectAll("line.grid").data(xTicks.slice(1)).join("line")
    .attr("class", "grid")
    .attr("x1", d => Math.round(x(d)) + 0.5).attr("x2", d => Math.round(x(d)) + 0.5)
    .attr("y1", y(2)).attr("y2", y(-2))
    .attr("stroke", "#000").attr("stroke-width", 1);

  g.append("line")
    .attr("x1", x(1950)).attr("x2", x(2002))
    .attr("y1", y(0)).attr("y2", y(0))
    .attr("stroke", "#000").attr("stroke-width", 1.6);

  g.selectAll("line.zt").data(xTicks.slice(1)).join("line")
    .attr("class", "zt")
    .attr("x1", d => Math.round(x(d)) + 0.5).attr("x2", d => Math.round(x(d)) + 0.5)
    .attr("y1", y(0) - 8).attr("y2", y(0) + 8)
    .attr("stroke", "#000").attr("stroke-width", 2);

  g.append("path").datum(data)
    .attr("d", line(y))
    .attr("fill", "none").attr("stroke", "#ff0000")
    .attr("stroke-width", 1.9).attr("stroke-linejoin", "round");

  g.append("line")
    .attr("x1", x(trendYears[0])).attr("y1", y(trendStart[i]))
    .attr("x2", x(trendYears[1])).attr("y2", y(trendEnd[i]))
    .attr("stroke", "#000").attr("stroke-width", 4);

  const ax = d3.axisLeft(y).tickValues(yTicks)
    .tickSizeInner(-9).tickSizeOuter(0).tickPadding(6)
    .tickFormat(d => String(d));
  const ga = g.append("g").attr("transform", `translate(${x(1950)},0)`).call(ax);
  ga.select(".domain").attr("stroke", "#000").attr("stroke-width", 2.2);
  ga.selectAll(".tick line").attr("stroke", "#000").attr("stroke-width", 2.2);
  ga.selectAll(".tick text").attr("font-family", FONT).attr("font-size", 20).attr("fill", "#000")
    .attr("dx", d => labelShift(d));

  svg.append("text").attr("x", 416).attr("y", titleBase[i])
    .attr("text-anchor", "middle").attr("font-family", FONT).attr("font-size", 21)
    .attr("fill", "#000").text(titles[i]);
});

svg.append("text").attr("x", 13).attr("y", 28)
  .attr("font-family", FONT).attr("font-size", 22).attr("fill", "#000").text(unitLabel);

// bottom x labels (last one kept inside the frame)
svg.selectAll("text.xl").data(xTicks).join("text")
  .attr("class", "xl")
  .attr("x", (d, k) => k === xTicks.length - 1 ? x(d) + 4 : x(d)).attr("y", 1006)
  .attr("text-anchor", (d, k) => k === xTicks.length - 1 ? "end" : "middle")
  .attr("font-family", FONT).attr("font-size", 20)
  .attr("fill", "#000").text(d => d);

svg.append("text").attr("x", 437).attr("y", 1041)
  .attr("text-anchor", "middle").attr("font-family", FONT).attr("font-size", 23)
  .attr("letter-spacing", 3).attr("fill", "#000").text(xLabel);
</script></body></html>
